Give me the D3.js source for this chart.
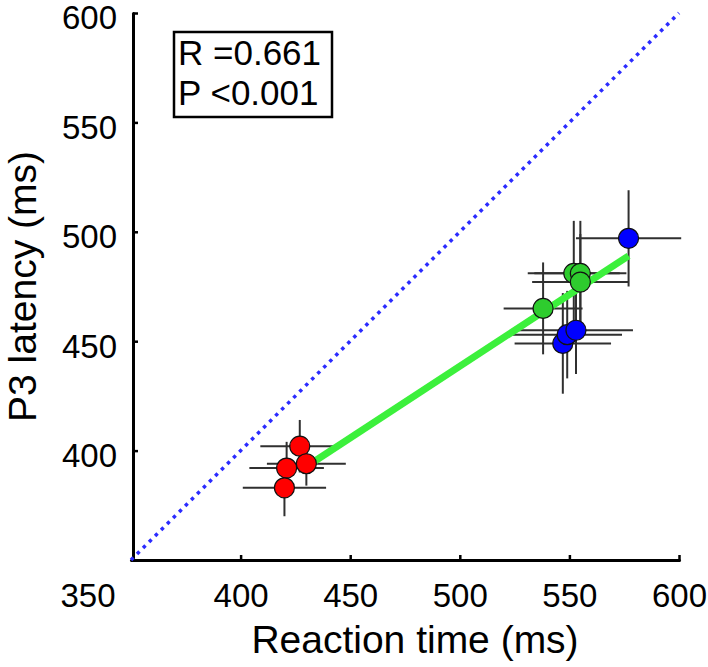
<!DOCTYPE html>
<html>
<head>
<meta charset="utf-8">
<script src="https://cdn.jsdelivr.net/npm/d3@7"></script>
<style>
  html, body { margin: 0; padding: 0; background: #fff; }
  svg { display: block; font-family: "Liberation Sans", Arial, Helvetica, sans-serif; }
</style>
</head>
<body>
<svg id="chart" width="708" height="667"></svg>
<script>
// ---- data ----
const groups   = ["red","red","red","red","green","green","green","green","blue","blue","blue","blue"];
const rtX      = [427, 430, 421, 420, 538, 552, 555, 555, 577, 547, 549, 553];
const p3Y      = [402, 394, 392, 383, 465, 481, 481, 477, 497, 449, 453, 455];
const rtErr    = [18, 18, 17, 19, 18, 21, 21, 22, 24, 22, 25, 26];
const p3Err    = [12, 10, 12, 13, 21, 24, 24, 22, 22, 23, 20, 20];
const fitX     = [432, 577];
const fitY     = [394, 489];
const diagX    = [350, 600];
const diagY    = [350, 600];
const xTicks   = [400, 450, 500, 550, 600];
const xCorner  = ["350"];
const yTicks   = [400, 450, 500, 550, 600];
const statsText = ["R =0.661", "P <0.001"];
const groupColors = { red: "#ff0000", green: "#2ecc2e", blue: "#0000ff" };

const svg = d3.select("#chart");
const x = d3.scaleLinear().domain([350, 600]).range([131, 679]);
const y = d3.scaleLinear().domain([350, 600]).range([560, 13]);

// axes
const gx = svg.append("g").attr("transform", `translate(0,${y(350)})`)
  .call(d3.axisBottom(x).tickValues(xTicks).tickSize(-5).tickSizeOuter(0).tickFormat(d3.format("d")));
const gy = svg.append("g").attr("transform", `translate(${x(350) + 2},0)`)
  .call(d3.axisLeft(y).tickValues(yTicks).tickSize(-5).tickSizeOuter(0).tickFormat(d3.format("d")));

[gx, gy].forEach(g => {
  g.select(".domain").attr("stroke", "#000").attr("stroke-width", 3).attr("stroke-linecap", "round");
  g.selectAll(".tick line").attr("stroke", "#000").attr("stroke-width", 2.5);
  g.selectAll("text").attr("fill", "#000").style("font-size", "33px")
    .style("font-family", "'Liberation Sans', Arial, sans-serif");
});
gx.selectAll(".tick text").attr("y", 0).attr("dy", "47px");
gy.selectAll(".tick text").attr("x", -16).attr("dy", "0.48em");

// corner label "350" (shifted left of the origin as in reference)
svg.selectAll(".corner").data(xCorner).enter().append("text")
  .attr("x", x(+xCorner[0]) - 43).attr("y", y(350) + 47)
  .attr("text-anchor", "middle").style("font-size", "33px").attr("fill", "#000")
  .text(d => d);

// axis titles
svg.append("text").attr("x", (x(350) + x(600)) / 2 + 10).attr("y", 653)
  .attr("text-anchor", "middle").style("font-size", "39px").text("Reaction time (ms)");
svg.append("text").attr("transform", `translate(36,${(y(350) + y(600)) / 2}) rotate(-90)`)
  .attr("text-anchor", "middle").style("font-size", "39px").text("P3 latency (ms)");

// identity (dotted) line
svg.append("line")
  .attr("x1", x(diagX[0])).attr("y1", y(diagY[0]))
  .attr("x2", x(diagX[1])).attr("y2", y(diagY[1]))
  .attr("stroke", "#2b2bff").attr("stroke-width", 3.5)
  .attr("stroke-dasharray", "3.5,5").attr("stroke-linecap", "butt");

const idx = d3.range(rtX.length);

// error bars
const eb = svg.append("g").attr("stroke", "#1a1a1a").attr("stroke-width", 2).attr("opacity", 0.9);
eb.selectAll(".h").data(idx).enter().append("line")
  .attr("x1", i => x(rtX[i] - rtErr[i])).attr("x2", i => x(rtX[i] + rtErr[i]))
  .attr("y1", i => y(p3Y[i])).attr("y2", i => y(p3Y[i]));
eb.selectAll(".v").data(idx).enter().append("line")
  .attr("x1", i => x(rtX[i])).attr("x2", i => x(rtX[i]))
  .attr("y1", i => y(p3Y[i] - p3Err[i])).attr("y2", i => y(p3Y[i] + p3Err[i]));

// regression line
svg.append("line")
  .attr("x1", x(fitX[0])).attr("y1", y(fitY[0]))
  .attr("x2", x(fitX[1])).attr("y2", y(fitY[1]))
  .attr("stroke", "#3cf03c").attr("stroke-width", 7);

// points
svg.append("g").selectAll("circle").data(idx).enter().append("circle")
  .attr("cx", i => x(rtX[i])).attr("cy", i => y(p3Y[i])).attr("r", 10)
  .attr("fill", i => groupColors[groups[i]])
  .attr("stroke", "#111").attr("stroke-width", 1.2);

// stats box
const box = svg.append("g");
box.append("rect").attr("x", 174).attr("y", 32).attr("width", 158).attr("height", 85)
  .attr("fill", "#fff").attr("stroke", "#000").attr("stroke-width", 2.5);
box.selectAll("text").data(statsText).enter().append("text")
  .attr("x", 178).attr("y", (d, i) => 65 + i * 40)
  .style("font-size", "35px").attr("fill", "#000").text(d => d);
</script>
</body>
</html>
